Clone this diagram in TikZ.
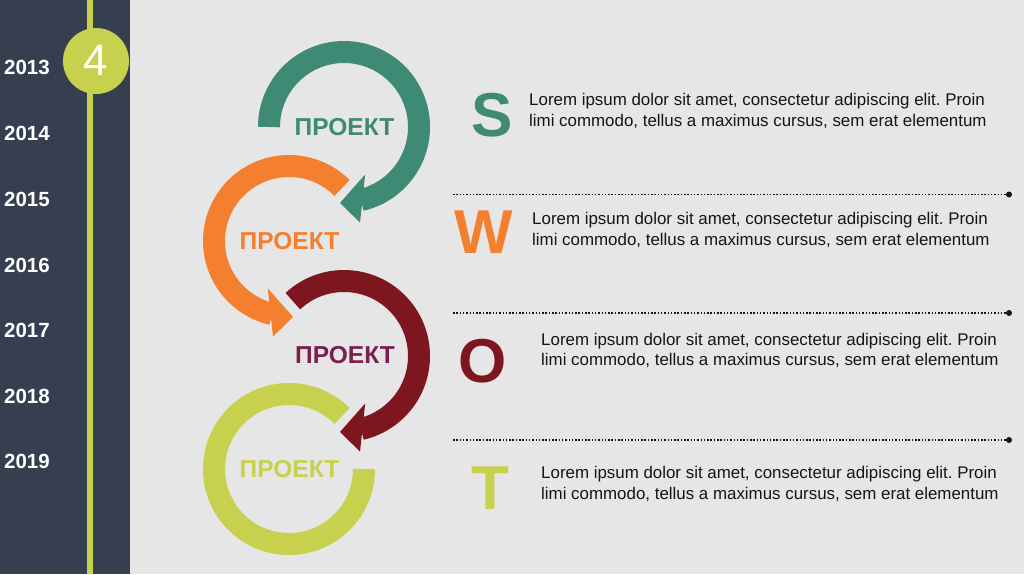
\documentclass[tikz,border=0pt]{standalone}
\usepackage{fontspec}
\setmainfont{Liberation Sans}
\frenchspacing
\definecolor{bgc}{HTML}{E6E6E6}
\definecolor{panel}{HTML}{353F50}
\definecolor{lime}{HTML}{C8D14D}
\definecolor{teal}{HTML}{3E8A74}
\definecolor{orng}{HTML}{F47F2F}
\definecolor{dred}{HTML}{7E1620}
\definecolor{plum}{HTML}{7A1F4E}
\definecolor{ink}{HTML}{151515}
\begin{document}
\begin{tikzpicture}[x=1pt,y=1pt,
  band/.style={line width=22pt,line cap=butt},
  year/.style={anchor=base west,inner sep=0pt,text=white,font=\fontsize{20.5}{24}\selectfont\bfseries},
  proj/.style={anchor=center,inner sep=0pt,font=\fontsize{24.5}{28}\selectfont\bfseries},
  letter/.style={anchor=base,inner sep=0pt,font=\fontsize{62}{70}\selectfont\bfseries},
  para/.style={anchor=base west,inner sep=0pt,text=ink,font=\fontsize{16.9}{20}\selectfont},
  dotline/.style={draw=ink,line width=1.5pt,dash pattern=on 1.5pt off 1.8pt}]
\useasboundingbox (0,0) rectangle (1024,-574);
\fill[bgc] (0,0) rectangle (1024,-574);
% sidebar
\fill[panel] (0,0) rectangle (129.5,-574);
\fill[lime] (87,0) rectangle (93,-574);
\fill[lime] (96,-61) circle (33);
\node[inner sep=0pt,text=white,font=\fontsize{44}{50}\selectfont] (num) at (95.5,-60) {4};
\node[year] (y1) at (4,-74) {2013};
\node[year] (y2) at (4,-140) {2014};
\node[year] (y3) at (4,-206) {2015};
\node[year] (y4) at (4,-272) {2016};
\node[year] (y5) at (4,-337) {2017};
\node[year] (y6) at (4,-403) {2018};
\node[year] (y7) at (4,-468) {2019};
% green arc
\begin{scope}[shift={(344,-127)}]
\draw[band,teal] (180:75) arc[start angle=180,end angle=-77,radius=75];
\fill[teal] (-66:52) -- (-93:76) -- (-80.5:97) -- cycle;
\end{scope}
% orange arc (mirrored)
\begin{scope}[shift={(289,-241)},xscale=-1]
\draw[band,orng] (135:75) arc[start angle=135,end angle=-77,radius=75];
\fill[orng] (-66:52) -- (-93:76) -- (-80.5:97) -- cycle;
\end{scope}
% dark red arc
\begin{scope}[shift={(344,-356)}]
\draw[band,dred] (133:75) arc[start angle=133,end angle=-77,radius=75];
\fill[dred] (-66:52) -- (-93:76) -- (-80.5:97) -- cycle;
\end{scope}
% lime ring
\begin{scope}[shift={(289,-469)}]
\draw[band,lime] (45:75) arc[start angle=45,end angle=360,radius=75];
\end{scope}
\node[proj,text=teal] (p1) at (344.5,-127) {ПРОЕКТ};
\node[proj,text=orng] (p2) at (289.5,-241) {ПРОЕКТ};
\node[proj,text=plum] (p3) at (345,-355) {ПРОЕКТ};
\node[proj,text=lime] (p4) at (289.5,-469) {ПРОЕКТ};
% SWOT letters
\node[letter,text=teal] (ls) at (492,-136) {S};
\node[letter,text=orng] (lw) at (484,-253) {W};
\node[letter,text=dred] (lo) at (482.5,-382) {O};
\node[letter,text=lime] (lt) at (490,-509) {T};
% paragraphs
\node[para] (s1) at (529,-105.5) {Lorem ipsum dolor sit amet, consectetur adipiscing elit. Proin};
\node[para] (s2) at (529,-126) {limi commodo, tellus a maximus cursus, sem erat elementum};
\node[para] (w1) at (532,-224) {Lorem ipsum dolor sit amet, consectetur adipiscing elit. Proin};
\node[para] (w2) at (532,-245) {limi commodo, tellus a maximus cursus, sem erat elementum};
\node[para] (o1) at (541,-345) {Lorem ipsum dolor sit amet, consectetur adipiscing elit. Proin};
\node[para] (o2) at (541,-365.5) {limi commodo, tellus a maximus cursus, sem erat elementum};
\node[para] (t1) at (541,-478) {Lorem ipsum dolor sit amet, consectetur adipiscing elit. Proin};
\node[para] (t2) at (541,-499) {limi commodo, tellus a maximus cursus, sem erat elementum};
% dotted separators
\coordinate (d1a) at (453,-194.5); \coordinate (d1b) at (1009,-194.5);
\coordinate (d2a) at (453,-313); \coordinate (d2b) at (1009,-313);
\coordinate (d3a) at (453,-440); \coordinate (d3b) at (1009,-440);
\draw[dotline] (d1a) -- (d1b);
\draw[dotline] (d2a) -- (d2b);
\draw[dotline] (d3a) -- (d3b);
\fill[ink] (d1b) circle (3);
\fill[ink] (d2b) circle (3);
\fill[ink] (d3b) circle (3);
\end{tikzpicture}
\end{document}
